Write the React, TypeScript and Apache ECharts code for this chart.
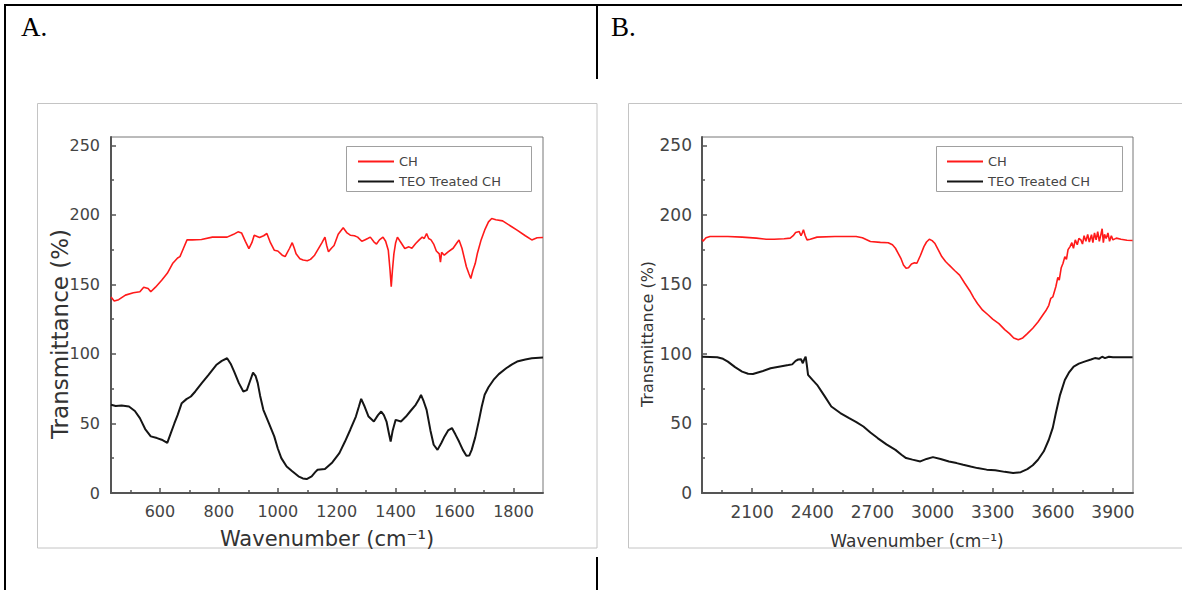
import React, { useEffect, useRef } from "react";
import * as echarts from "echarts";

// ---------- data (wavenumber, transmittance %) ----------
const aCH: number[][] = [
  [434, 141], [445, 138], [460, 139], [483, 142.3], [510, 144], [532, 144.7], [545, 148], [560, 147], [569, 144.7],
  [585, 148], [606, 153], [625, 158], [643, 165], [660, 169], [668, 170], [680, 176], [692, 182], [710, 182],
  [741, 182.3], [778, 184], [828, 184], [850, 186], [865, 187.8], [877, 187], [890, 181], [902, 175.8], [912, 180],
  [920, 185.4], [938, 183.7], [952, 185], [963, 186.6], [975, 180], [988, 174.6], [1000, 174], [1015, 171],
  [1025, 170], [1040, 176], [1049, 180], [1056, 176], [1062, 172], [1075, 168.5], [1086, 167.5], [1100, 167],
  [1111, 168], [1125, 171], [1135, 174.6], [1150, 180], [1160, 184], [1166, 178], [1172, 173.4], [1182, 176],
  [1191, 178], [1205, 186], [1222, 190.7], [1235, 187], [1246, 185.4], [1260, 185], [1271, 184], [1285, 181],
  [1295, 182], [1305, 183], [1314, 184], [1326, 180.6], [1335, 179], [1345, 182], [1357, 184], [1366, 181],
  [1375, 174.6], [1381, 160], [1385, 148.3], [1389, 160], [1394, 172], [1400, 180], [1406, 184], [1415, 181],
  [1431, 175.8], [1445, 177], [1455, 176], [1468, 179.4], [1480, 182], [1490, 184], [1497, 183], [1505, 186.6],
  [1512, 183], [1520, 182], [1529, 179], [1538, 174], [1548, 172], [1552, 166], [1556, 173], [1565, 171],
  [1578, 173.4], [1595, 176], [1608, 180], [1615, 182], [1625, 176], [1640, 162.7], [1648, 158], [1655, 154.3],
  [1662, 160], [1670, 165], [1677, 172], [1690, 182], [1702, 189], [1715, 195], [1726, 197.4], [1740, 196.5],
  [1763, 195.7], [1790, 192], [1812, 189], [1840, 185], [1862, 182], [1880, 183.5], [1900, 183.7],
];

const aTEO: number[][] = [
  [434, 63.4], [450, 62.5], [470, 63], [495, 62.2], [515, 59], [532, 53.8], [550, 46], [569, 40.7], [590, 39.5],
  [606, 38.3], [625, 36], [637, 43], [649, 50], [660, 56], [674, 64.6], [690, 67.5], [705, 69.4], [720, 73],
  [742, 79], [765, 85], [791, 92], [810, 95], [828, 96.9], [840, 93], [852, 87.3], [868, 79], [883, 73], [895, 74],
  [905, 80], [916, 86.6], [925, 84], [932, 79], [940, 70], [951, 59.8], [970, 50], [988, 40.7], [1000, 32],
  [1012, 25.1], [1030, 19], [1049, 15.6], [1070, 12], [1085, 10.5], [1098, 10], [1115, 12], [1127, 15],
  [1135, 16.7], [1160, 17.2], [1185, 22], [1209, 28.7], [1228, 37], [1246, 45.5], [1265, 55], [1275, 62],
  [1283, 67.7], [1295, 62], [1308, 55], [1326, 51.4], [1340, 56], [1351, 58.6], [1360, 56], [1369, 51.4],
  [1377, 43], [1383, 37], [1390, 45], [1400, 52.6], [1418, 51.4], [1435, 55], [1449, 58.6], [1468, 63.4],
  [1478, 67], [1486, 70.6], [1495, 66], [1505, 59.8], [1518, 45], [1529, 34.7], [1542, 31], [1555, 36],
  [1566, 40.7], [1578, 45], [1591, 46.7], [1603, 42], [1615, 37], [1628, 31], [1640, 26.8], [1650, 27], [1658, 31],
  [1670, 40], [1683, 52.6], [1692, 62], [1702, 70.6], [1715, 76], [1732, 81.3], [1750, 85.5], [1775, 89.7],
  [1795, 92.5], [1812, 94.5], [1840, 96], [1862, 96.9], [1900, 97.4],
];

const bCH: number[][] = [
  [1851, 182.5], [1855, 181], [1870, 183.5], [1890, 184.5], [1979, 184.5], [2050, 184], [2121, 183.3],
  [2170, 182.5], [2210, 182.5], [2260, 182.8], [2290, 183.3], [2305, 185], [2317, 187.3], [2335, 188],
  [2344, 185], [2350, 187], [2356, 189.3], [2365, 185], [2374, 182], [2390, 182.5], [2424, 184], [2513, 184.5],
  [2619, 184.5], [2650, 183.5], [2690, 180.8], [2740, 180.2], [2779, 180], [2800, 178.5], [2815, 176],
  [2830, 172], [2842, 168.8], [2855, 164], [2868, 161.6], [2880, 162], [2895, 164.7], [2910, 165.5],
  [2922, 165.2], [2940, 171], [2957, 177.2], [2970, 180.5], [2984, 182.5], [2998, 181.5], [3011, 179.6],
  [3030, 174.5], [3046, 170], [3065, 166.5], [3082, 164], [3110, 160], [3135, 156.7], [3160, 151], [3189, 144.7],
  [3205, 140.5], [3224, 136.3], [3250, 131.5], [3278, 128], [3300, 125], [3331, 121.8], [3360, 117.5],
  [3384, 114.6], [3405, 111.5], [3428, 110.2], [3450, 111.5], [3473, 114.6], [3500, 118.5], [3526, 123],
  [3550, 128], [3565, 131], [3580, 135], [3590, 140], [3600, 141], [3615, 148.3], [3625, 155], [3632, 153],
  [3642, 162], [3651, 165.2], [3660, 170], [3668, 168], [3676, 175], [3686, 177.2], [3695, 180], [3703, 176],
  [3712, 182], [3722, 178.5], [3730, 183], [3740, 182], [3748, 179], [3756, 185], [3765, 181], [3774, 186],
  [3782, 180.5], [3793, 185.7], [3800, 180], [3808, 187], [3816, 182], [3824, 188], [3832, 181], [3840, 186],
  [3846, 190], [3852, 180], [3858, 186], [3866, 183], [3875, 187], [3883, 181], [3892, 185], [3900, 182],
  [3917, 183.3], [3940, 182.5], [3970, 181.8], [3998, 181.6],
];

const bTEO: number[][] = [
  [1851, 98], [1890, 97.8], [1926, 97.6], [1955, 96.5], [1979, 94.5], [2015, 90.5], [2050, 87.3], [2080, 85.8],
  [2104, 85.6], [2150, 87.5], [2192, 89.7], [2240, 91], [2281, 92], [2300, 92.5], [2317, 95], [2330, 96],
  [2344, 96.2], [2353, 93.3], [2360, 96], [2367, 98], [2373, 92], [2379, 85], [2400, 81.5], [2424, 77.8],
  [2460, 70], [2495, 62.2], [2540, 57.5], [2584, 53.8], [2620, 51], [2655, 47.8], [2690, 43.5], [2726, 39.5],
  [2770, 35], [2815, 31], [2845, 27.5], [2868, 25.1], [2900, 24], [2939, 22.7], [2970, 24.5], [3002, 25.8],
  [3040, 24.5], [3082, 22.7], [3120, 21.5], [3153, 20.3], [3190, 19], [3224, 17.9], [3270, 16.8], [3313, 16.3],
  [3360, 15.2], [3402, 14.4], [3440, 15], [3473, 17.2], [3500, 20], [3526, 23.9], [3555, 30], [3580, 38.3],
  [3600, 47], [3615, 57.4], [3635, 70], [3660, 81.3], [3680, 86.5], [3704, 90.9], [3730, 93], [3758, 94.5],
  [3790, 96], [3810, 97], [3830, 96.5], [3846, 98], [3860, 97], [3880, 98], [3900, 97.6], [3935, 97.6],
  [3998, 97.6],
];

const aXMajor = [600, 800, 1000, 1200, 1400, 1600, 1800];
const aXMinor = [500, 700, 900, 1100, 1300, 1500, 1700];
const bXMajor = [2100, 2400, 2700, 3000, 3300, 3600, 3900];
const bXMinor = [1950, 2250, 2550, 2850, 3150, 3450, 3750];
const yMajor = [0, 50, 100, 150, 200, 250];
const yMinor = [25, 75, 125, 175, 225];

const seriesNames = ["CH", "TEO Treated CH"];
const panelLabels = ["A.", "B."];
const xTitle = "Wavenumber (cm⁻¹)";
const yTitle = "Transmittance (%)";

// ---------- styling ----------
const RED = "#ff1a1a";
const BLACK = "#151515";
const AXIS = "#555";
const FONT = "DejaVu Sans";
const plain = (v: number) => String(v);

function majorX(grid: number, min: number, max: number, ticks: number[], fs: number) {
  return {
    type: "value", gridIndex: grid, min, max, position: "bottom",
    axisLine: { show: true, onZero: false, lineStyle: { color: AXIS, width: 2 } },
    axisTick: { show: true, inside: true, length: 5, customValues: ticks, lineStyle: { color: AXIS, width: 1.5 } },
    axisLabel: { show: true, customValues: ticks, formatter: plain, margin: 10, color: "#444", fontSize: fs, fontFamily: FONT },
    splitLine: { show: false },
  };
}
function minorX(grid: number, min: number, max: number, ticks: number[]) {
  return {
    type: "value", gridIndex: grid, min, max, position: "bottom",
    axisLine: { show: false, onZero: false },
    axisTick: { show: true, inside: true, length: 3, customValues: ticks, lineStyle: { color: AXIS, width: 1.5 } },
    axisLabel: { show: false },
    splitLine: { show: false },
  };
}
function majorY(grid: number, fs: number, margin: number) {
  return {
    type: "value", gridIndex: grid, min: 0, max: 256, position: "left",
    axisLine: { show: true, onZero: false, lineStyle: { color: AXIS, width: 2 } },
    axisTick: { show: true, inside: true, length: 5, customValues: yMajor, lineStyle: { color: AXIS, width: 1.5 } },
    axisLabel: { show: true, customValues: yMajor, formatter: plain, margin, color: "#444", fontSize: fs, fontFamily: FONT },
    splitLine: { show: false },
  };
}
function minorY(grid: number) {
  return {
    type: "value", gridIndex: grid, min: 0, max: 256, position: "left",
    axisLine: { show: false, onZero: false },
    axisTick: { show: true, inside: true, length: 3, customValues: yMinor, lineStyle: { color: AXIS, width: 1.5 } },
    axisLabel: { show: false },
    splitLine: { show: false },
  };
}

function line(x1: number, y1: number, x2: number, y2: number, color = "#000", w = 2) {
  return { type: "line", shape: { x1, y1, x2, y2 }, style: { stroke: color, lineWidth: w }, silent: true };
}
function rect(x: number, y: number, width: number, height: number, color: string) {
  return { type: "rect", shape: { x, y, width, height }, style: { stroke: color, fill: "none", lineWidth: 1 }, silent: true };
}
function text(t: string, x: number, y: number, font: string, fill: string, rotation = 0, align = "center") {
  return {
    type: "text", x, y, rotation, silent: true,
    style: { text: t, font, fill, align, verticalAlign: "middle", textAlign: align, textVerticalAlign: "middle" },
  };
}

function buildOption() {
  return {
    animation: false,
    backgroundColor: "#fff",
    grid: [
      { left: 111, top: 137, width: 432, height: 356, show: true, borderColor: "#777", borderWidth: 1, backgroundColor: "transparent" },
      { left: 702, top: 137, width: 431, height: 356, show: true, borderColor: "#777", borderWidth: 1, backgroundColor: "transparent" },
    ],
    xAxis: [
      majorX(0, 434, 1900, aXMajor, 16),
      minorX(0, 434, 1900, aXMinor),
      majorX(1, 1850, 4000, bXMajor, 17),
      minorX(1, 1850, 4000, bXMinor),
    ],
    yAxis: [majorY(0, 16, 11), minorY(0), majorY(1, 17, 10), minorY(1)],
    legend: [
      {
        data: seriesNames, orient: "vertical", left: 358, top: 154.5, icon: "rect", itemWidth: 36, itemHeight: 2,
        itemGap: 6, padding: 0, textStyle: { fontSize: 13, fontFamily: FONT, color: "#444", lineHeight: 14 },
        selectedMode: false,
      },
      {
        data: seriesNames, orient: "vertical", left: 947, top: 154.5, icon: "rect", itemWidth: 36, itemHeight: 2,
        itemGap: 6, padding: 0, textStyle: { fontSize: 13, fontFamily: FONT, color: "#444", lineHeight: 14 },
        selectedMode: false,
      },
    ],
    series: [
      { name: seriesNames[0], type: "line", xAxisIndex: 0, yAxisIndex: 0, data: aCH, symbol: "none", color: RED, lineStyle: { color: RED, width: 1.6 } },
      { name: seriesNames[1], type: "line", xAxisIndex: 0, yAxisIndex: 0, data: aTEO, symbol: "none", color: BLACK, lineStyle: { color: BLACK, width: 2 } },
      { name: seriesNames[0], type: "line", xAxisIndex: 2, yAxisIndex: 2, data: bCH, symbol: "none", color: RED, lineStyle: { color: RED, width: 1.6 } },
      { name: seriesNames[1], type: "line", xAxisIndex: 2, yAxisIndex: 2, data: bTEO, symbol: "none", color: BLACK, lineStyle: { color: BLACK, width: 2 } },
    ],
    graphic: {
      elements: [
        // table borders
        line(4, 5, 1182, 5, "#000", 2),
        line(5, 4, 5, 590, "#000", 2),
        line(597, 5, 597, 79, "#000", 2),
        line(597, 557, 597, 590, "#000", 2),
        // picture frames
        rect(37.5, 103.5, 559.5, 444.5, "#c4c4c4"),
        rect(628.5, 103.5, 570, 444.5, "#c4c4c4"),
        // legend boxes
        rect(346.5, 146.5, 185, 45, "#a0a0a0"),
        rect(936.5, 146.5, 186, 45, "#a0a0a0"),
        // panel letters
        text(panelLabels[0], 21, 27, '27px "Liberation Serif"', "#000", 0, "left"),
        text(panelLabels[1], 611, 27, '27px "Liberation Serif"', "#000", 0, "left"),
        // axis titles panel A
        text(yTitle, 60, 334, `23px "${FONT}"`, "#333", Math.PI / 2),
        text(xTitle, 327, 539, `21px "${FONT}"`, "#333"),
        // axis titles panel B
        text(yTitle, 647, 334, `16px "${FONT}"`, "#333", Math.PI / 2),
        text(xTitle, 917, 541, `17px "${FONT}"`, "#333"),
      ],
    },
  };
}

export default function App() {
  const ref = useRef<HTMLDivElement>(null);
  useEffect(() => {
    if (!ref.current) return;
    const chart = echarts.init(ref.current, null, { renderer: "svg" });
    chart.setOption(buildOption() as any);
    return () => chart.dispose();
  }, []);
  return (
    <div
      ref={ref}
      style={{ position: "absolute", left: 0, top: 0, width: 1182, height: 590, background: "#fff" }}
    />
  );
}
